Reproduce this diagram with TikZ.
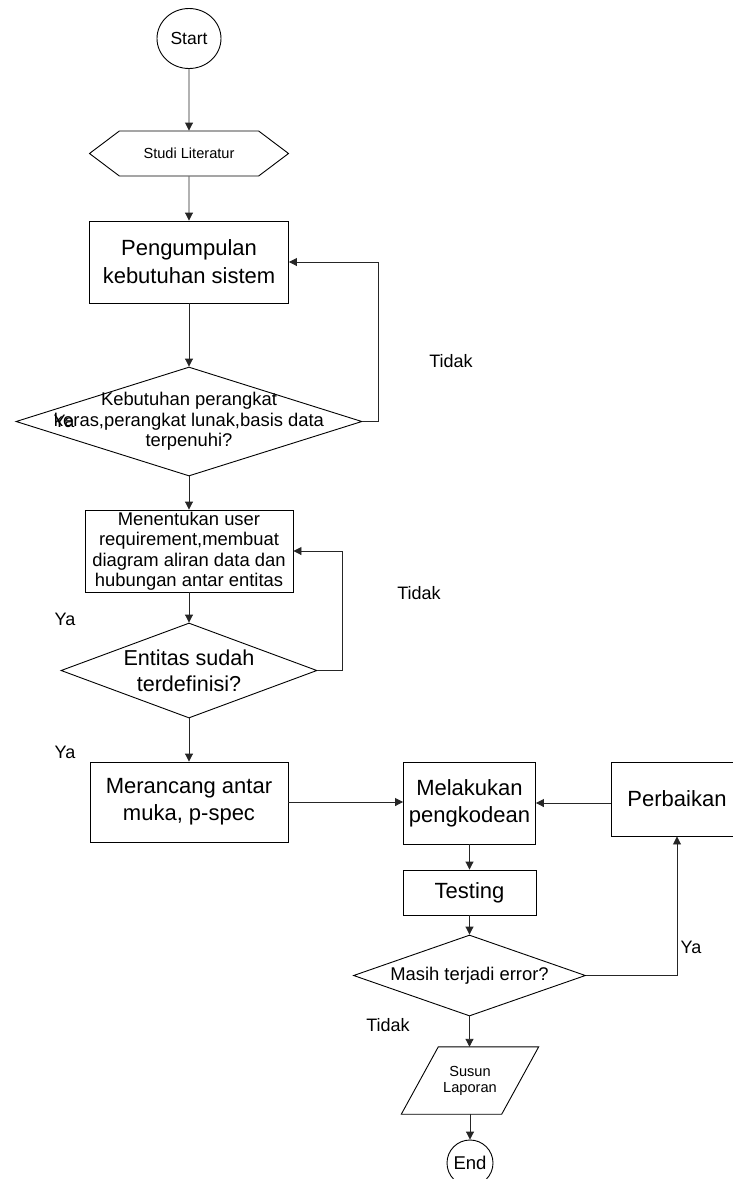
\documentclass[tikz,border=0pt]{standalone}
\usepackage{fontspec}
\setmainfont{Liberation Sans}
\usetikzlibrary{arrows.meta,positioning,shapes.geometric,shapes.symbols}
\tikzset{
  ar/.style={-{Triangle[length=8pt,width=8pt]},line width=0.9pt,black!85},
  bx/.style={rectangle,draw,line width=0.9pt,inner sep=0pt,align=center},
  dec/.style={diamond,draw,line width=0.9pt,inner sep=0pt},
  tl/.style={font=\fontsize{18}{21}\selectfont,inner sep=0pt}
}
\newcommand{\bigf}{\fontsize{22}{27}\selectfont}
\newcommand{\midf}{\fontsize{18.4}{20.5}\selectfont}
\newcommand{\smf}{\fontsize{14.6}{16}\selectfont}

\begin{document}
\begin{tikzpicture}[x=1pt,y=-1pt]
\useasboundingbox (0,0) rectangle (733,1179);
% left column
\node[ellipse,draw,line width=0.9pt,minimum width=64pt,minimum height=60pt,inner sep=0pt,font=\fontsize{17.5}{20}\selectfont] (st) at (189,38.5) {Start};
\node[signal,signal to=west and east,signal pointer angle=74,draw,line width=0.9pt,minimum width=199pt,minimum height=45pt,inner sep=0pt,font=\smf] (hx) at (189,153.5) {Studi Literatur};
\node[bx,minimum width=199pt,minimum height=82pt,font=\fontsize{22}{28}\selectfont] (b1) at (189,262) {Pengumpulan\\kebutuhan sistem};
\node[dec,minimum width=346pt,minimum height=109pt,label={[align=center,font=\midf]center:Kebutuhan perangkat\\keras,perangkat lunak,basis data\\terpenuhi?}] (d1) at (189,421.5) {};
\node[bx,minimum width=208pt,minimum height=82pt,font=\midf] (b2) at (189,551) {Menentukan user\\requirement,membuat\\diagram aliran data dan\\hubungan antar entitas};
\node[dec,minimum width=256pt,minimum height=95pt,label={[align=center,font=\fontsize{21.6}{26}\selectfont]center:Entitas sudah\\terdefinisi?}] (d2) at (189,670.5) {};
\node[bx,minimum width=198pt,minimum height=80pt,font=\bigf] (b3) at (189,802) {Merancang antar\\muka, p-spec};
% right column
\node[bx,minimum width=132pt,minimum height=82pt,font=\bigf] (b4) at (469.5,803) {Melakukan\\pengkodean};
\node[bx,minimum width=132pt,minimum height=74pt,font=\bigf] (b5) at (677,799) {Perbaikan};
\node[bx,minimum width=133pt,minimum height=45pt,font=\bigf] (tst) at (469.5,892.5) {Testing};
\node[dec,minimum width=232pt,minimum height=81pt,label={[font=\midf]center:Masih terjadi error?}] (d3) at (469.5,975.5) {};
\node[minimum width=100pt,minimum height=67pt,inner sep=0pt,align=center,font=\smf] (lap) at (470,1080.5) {Susun\\Laporan};
\draw[line width=0.9pt] ([xshift=18.5pt]lap.north west) -- ([xshift=18.5pt]lap.north east)
  -- ([xshift=-18.5pt]lap.south east) -- ([xshift=-18.5pt]lap.south west) -- cycle;
\node[circle,draw,line width=0.9pt,minimum size=46pt,inner sep=0pt,font=\fontsize{18.5}{20}\selectfont] (en) at (470,1163) {End};
% labels
\node[tl] (ya1) at (64,421) {Ya};
\node[tl] (td1) at (451,361) {Tidak};
\node[tl] (td2) at (419,593) {Tidak};
\node[tl] (ya2) at (65,619) {Ya};
\node[tl] (ya3) at (65,752) {Ya};
\node[tl] (ya4) at (691,947) {Ya};
\node[tl] (td3) at (388,1025) {Tidak};
% connectors
\draw[ar] (st) -- (hx);
\draw[ar] (hx) -- (b1);
\draw[ar] (b1) -- (d1);
\draw[ar] (d1.east) -- ++(16,0) |- (b1.east);
\draw[ar] (d1) -- (b2);
\draw[ar] (b2) -- (d2);
\draw[ar] (d2.east) -- ++(25,0) |- (b2.east);
\draw[ar] (d2) -- (b3);
\draw[ar] (b3.east) -- (b3.east -| b4.west);
\draw[ar] (b4.east -| b5.west) -- (b4.east);
\draw[ar] (b4) -- (tst);
\draw[ar] (tst) -- (d3);
\draw[ar] (d3.east) -| (b5.south);
\draw[ar] (d3) -- (d3.south |- lap.north);
\draw[ar] (lap.south -| en) -- (en);
\end{tikzpicture}
\end{document}
